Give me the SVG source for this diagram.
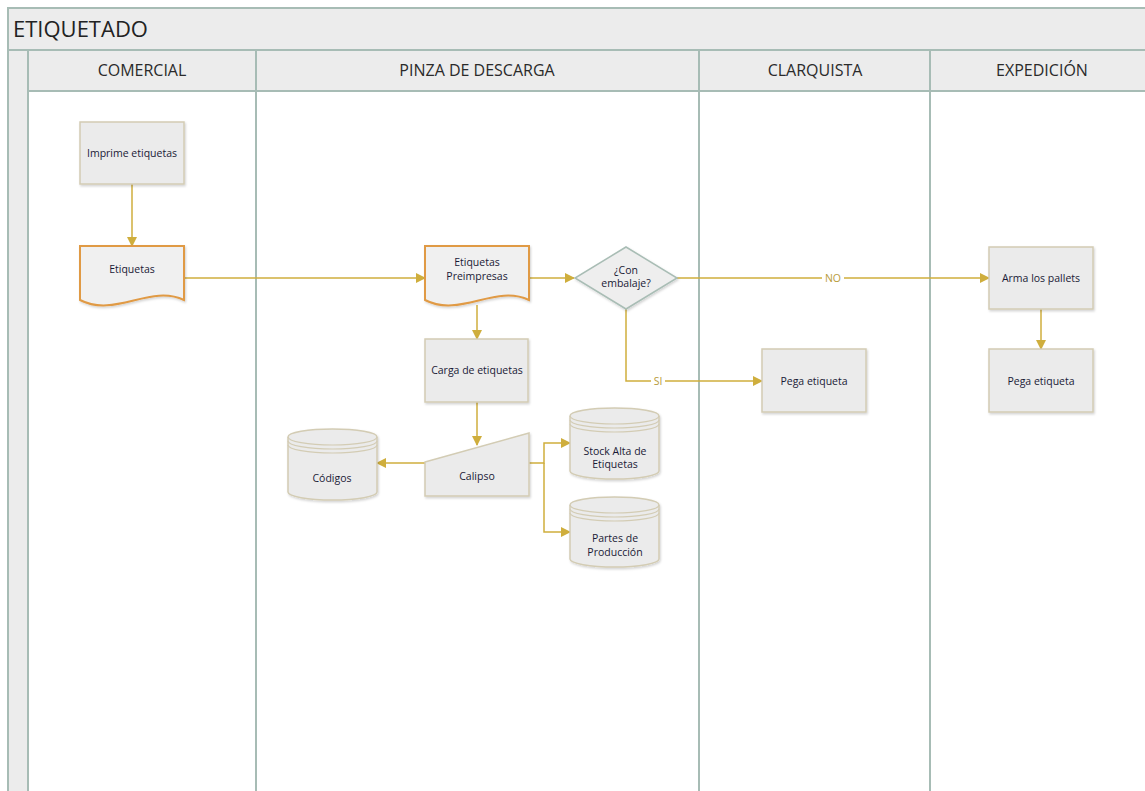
<svg xmlns="http://www.w3.org/2000/svg" width="1145" height="791" viewBox="0 0 1145 791">
<defs>
<style>
.lane{fill:#ffffff;stroke:#a7bcb5;stroke-width:2}
.hdr{fill:#ececec;stroke:#a7bcb5;stroke-width:2}
.hdrtxt{font-family:"Open Sans","Noto Sans",sans-serif;font-size:16px;fill:#2a2a2a;text-anchor:middle}
.title{font-family:"Open Sans","Noto Sans",sans-serif;font-size:22px;fill:#222}
.box{fill:#ebebeb;stroke:#d3ccb4;stroke-width:1.5;filter:url(#sh)}
.doc{fill:#f0f0f0;stroke:#e09a45;stroke-width:2;filter:url(#sh)}
.dia{fill:#eeeeee;stroke:#a9bdb5;stroke-width:1.5;filter:url(#sh)}
.t{font-family:"Open Sans","Noto Sans",sans-serif;font-size:10.5px;fill:#1a1a36;text-anchor:middle}
.c{fill:none;stroke:#cfae3d;stroke-width:1.5}
.lbl{font-family:"Open Sans","Noto Sans",sans-serif;font-size:10.5px;fill:#b89b3a;text-anchor:middle}
.arc{fill:none;stroke:#d3ccb4;stroke-width:1.2}
</style>
<marker id="ah" markerWidth="10" markerHeight="10" refX="9" refY="5" orient="auto" markerUnits="userSpaceOnUse">
<path d="M0,0 L10,5 L0,10 Z" fill="#cfae3d"/>
</marker>
<filter id="sh" x="-10%" y="-10%" width="130%" height="130%">
<feDropShadow dx="1" dy="1.5" stdDeviation="1" flood-color="#000" flood-opacity="0.18"/>
</filter>
</defs>

<g id="pool">
<rect x="8" y="8" width="1150" height="800" class="hdr"/>
<text x="13" y="37" class="title">ETIQUETADO</text>
<rect x="8" y="50" width="20" height="760" class="hdr"/>
</g>
<g id="lane-comercial">
<rect x="28" y="91" width="228" height="720" class="lane"/>
<rect x="28" y="50" width="228" height="41" class="hdr"/>
<text x="142" y="76" class="hdrtxt">COMERCIAL</text>
</g>
<g id="lane-pinza">
<rect x="256" y="91" width="443" height="720" class="lane"/>
<rect x="256" y="50" width="443" height="41" class="hdr"/>
<text x="477" y="76" class="hdrtxt">PINZA DE DESCARGA</text>
</g>
<g id="lane-clarquista">
<rect x="699" y="91" width="231" height="720" class="lane"/>
<rect x="699" y="50" width="231" height="41" class="hdr"/>
<text x="815" y="76" class="hdrtxt">CLARQUISTA</text>
</g>
<g id="lane-expedicion">
<rect x="930" y="91" width="230" height="720" class="lane"/>
<rect x="930" y="50" width="230" height="41" class="hdr"/>
<text x="1042" y="76" class="hdrtxt">EXPEDICIÓN</text>
</g>

<g id="connectors">
<path class="c" d="M132,184 V246" marker-end="url(#ah)"/>
<path class="c" d="M184,278 H425" marker-end="url(#ah)"/>
<path class="c" d="M529,278 H574" marker-end="url(#ah)"/>
<path class="c" d="M677,278 H822 M844,278 H989" marker-end="url(#ah)"/>
<path class="c" d="M626,309 V381 H651 M665,381 H762" marker-end="url(#ah)"/>
<path class="c" d="M477,305 V339" marker-end="url(#ah)"/>
<path class="c" d="M477,402 V445" marker-end="url(#ah)"/>
<path class="c" d="M425,463 H377" marker-end="url(#ah)"/>
<path class="c" d="M529,463 H544 V443 H570" marker-end="url(#ah)"/>
<path class="c" d="M544,463 V532 H570" marker-end="url(#ah)"/>
<path class="c" d="M1041,309 V349" marker-end="url(#ah)"/>
<text x="833" y="282" class="lbl">NO</text>
<text x="658" y="385" class="lbl">SI</text>
</g>

<g id="imprime">
<rect x="80" y="122" width="104" height="62" class="box"/>
<text x="132" y="157" class="t">Imprime etiquetas</text>
</g>
<g id="etiquetas">
<path class="doc" d="M80,246 H184 V300 C150,284 115,318 80,300 Z"/>
<text x="132" y="273" class="t">Etiquetas</text>
</g>
<g id="preimpresas">
<path class="doc" d="M425,246 H529 V300 C495,284 460,318 425,300 Z"/>
<text x="477" y="266" class="t">Etiquetas</text>
<text x="477" y="280" class="t">Preimpresas</text>
</g>
<g id="decision">
<path class="dia" d="M626,247 L677,278 L626,309 L575,278 Z"/>
<text x="626" y="274" class="t">¿Con</text>
<text x="626" y="287" class="t">embalaje?</text>
</g>
<g id="carga">
<rect x="425" y="339" width="103" height="63" class="box"/>
<text x="477" y="374" class="t">Carga de etiquetas</text>
</g>
<g id="calipso">
<path class="box" d="M425,462 L529,433 V496 H425 Z"/>
<text x="477" y="480" class="t">Calipso</text>
</g>
<g id="codigos">
<path class="box" d="M288,437 A44.5,8 0 0 1 377,437 V492 A44.5,8 0 0 1 288,492 Z"/>
<path class="arc" d="M288,437 A44.5,8 0 0 0 377,437 M288,441 A44.5,8 0 0 0 377,441 M288,445 A44.5,8 0 0 0 377,445"/>
<text x="332" y="482" class="t">Códigos</text>
</g>
<g id="stock">
<path class="box" d="M570,416 A44.5,8 0 0 1 659,416 V471 A44.5,8 0 0 1 570,471 Z"/>
<path class="arc" d="M570,416 A44.5,8 0 0 0 659,416 M570,420 A44.5,8 0 0 0 659,420 M570,424 A44.5,8 0 0 0 659,424"/>
<text x="615" y="455" class="t">Stock Alta de</text>
<text x="615" y="468" class="t">Etiquetas</text>
</g>
<g id="partes">
<path class="box" d="M570,505 A44.5,8 0 0 1 659,505 V559 A44.5,8 0 0 1 570,559 Z"/>
<path class="arc" d="M570,505 A44.5,8 0 0 0 659,505 M570,509 A44.5,8 0 0 0 659,509 M570,513 A44.5,8 0 0 0 659,513"/>
<text x="615" y="542" class="t">Partes de</text>
<text x="615" y="556" class="t">Producción</text>
</g>
<g id="pega1">
<rect x="762" y="349" width="104" height="63" class="box"/>
<text x="814" y="385" class="t">Pega etiqueta</text>
</g>
<g id="arma">
<rect x="989" y="247" width="104" height="62" class="box"/>
<text x="1041" y="282" class="t">Arma los pallets</text>
</g>
<g id="pega2">
<rect x="989" y="349" width="104" height="63" class="box"/>
<text x="1041" y="385" class="t">Pega etiqueta</text>
</g>
</svg>
